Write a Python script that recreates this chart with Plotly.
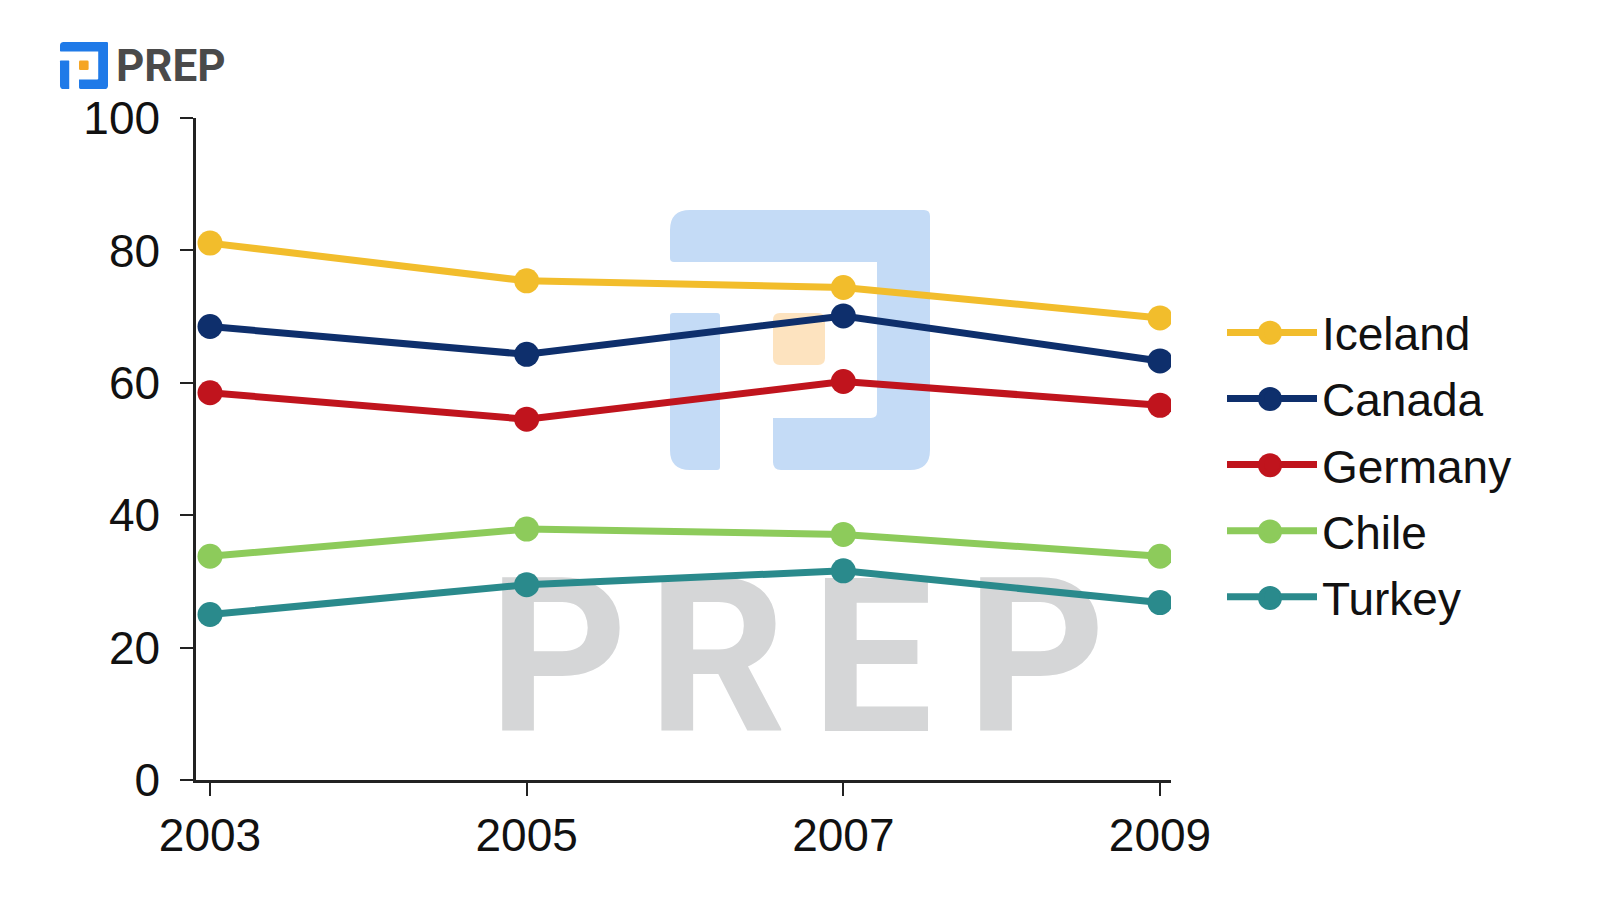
import plotly.graph_objects as go

# ---------------- data ----------------
years = [2003, 2005, 2007, 2009]
countries = ["Iceland", "Canada", "Germany", "Chile", "Turkey"]
iceland = [81.1, 75.4, 74.4, 69.8]
canada = [68.5, 64.3, 70.1, 63.3]
germany = [58.5, 54.5, 60.2, 56.6]
chile = [33.8, 37.9, 37.1, 33.8]
turkey = [25.0, 29.5, 31.6, 26.8]
y_ticks = [0, 20, 40, 60, 80, 100]
x_ticks = [2003, 2005, 2007, 2009]

series = [iceland, canada, germany, chile, turkey]
colors = ["#f2bd2c", "#0e2f6c", "#c0141d", "#8dcb5b", "#2a8a8c"]

# ---------------- geometry ----------------
W, H = 1600, 900
L, R, T, B = 196, 1171, 118, 780

def px(x):
    return (x - L) / (R - L)

def py(y):
    return (B - y) / (B - T)

def rounded_poly(pts, radii, tf=lambda x, y: (x, y)):
    n = len(pts)
    segs = []
    for i in range(n):
        P = pts[i]
        A = pts[i - 1]
        C = pts[(i + 1) % n]
        r = radii[i]
        def toward(Q, d):
            dx, dy = Q[0] - P[0], Q[1] - P[1]
            ln = (dx * dx + dy * dy) ** 0.5
            return (P[0] + dx / ln * d, P[1] + dy / ln * d)
        segs.append((toward(A, r), P, toward(C, r)))
    def fmt(p):
        x, y = tf(*p)
        return f"{px(x):.5f},{py(y):.5f}"
    s = "M" + fmt(segs[0][0])
    for (p1, P, p2) in segs:
        s += " L" + fmt(p1) + " Q" + fmt(P) + " " + fmt(p2)
    s += " Z"
    return s

def rect_pts(x0, y0, x1, y1):
    return [(x0, y0), (x1, y0), (x1, y1), (x0, y1)]

# logo pieces (pixel coordinates of the big watermark)
main_pts = [(670, 210), (930, 210), (930, 470), (773, 470), (773, 418), (877, 418), (877, 262), (670, 262)]
main_r = [20, 6, 20, 8, 0.01, 6, 0.01, 4]
left_pts = rect_pts(670, 313, 720, 470)
left_r = [3, 3, 3, 20]
orange_pts = rect_pts(773, 313, 825, 365)
orange_r = [7, 7, 7, 7]

shapes = []
def add_logo(tf, blue, orange, layer):
    for pts, rr, col in [(main_pts, main_r, blue), (left_pts, left_r, blue), (orange_pts, orange_r, orange)]:
        shapes.append(dict(type="path", xref="paper", yref="paper", layer=layer,
                           path=rounded_poly(pts, rr, tf), fillcolor=col, line=dict(width=0)))

add_logo(lambda x, y: (x, y), "#c4dbf6", "#fde3bf", "below")
add_logo(lambda x, y: (60 + (x - 670) * 48 / 260, 42 + (y - 210) * 47 / 260), "#1f7ae8", "#f5a524", "above")

# gray PREP watermark letters (below the lines)
letters = [("P", 558), ("R", 717), ("E", 872), ("P", 1036)]
for ch, cx in letters:
    shapes.append(dict(type="rect", xref="paper", yref="paper", layer="below",
                       x0=px(cx - 70), x1=px(cx + 70), y0=py(721), y1=py(561),
                       fillcolor="rgba(0,0,0,0)", line=dict(width=0),
                       label=dict(text=ch, textposition="middle center",
                                  font=dict(family="Roboto", size=216, color="#d5d6d7", weight="bold"))))

# larger legend dots (plotly caps legend marker size)
legend_dot_y = [332.7, 399.0, 465.3, 531.6, 597.9]
for col, yy in zip(colors, legend_dot_y):
    shapes.append(dict(type="circle", xref="paper", yref="paper", layer="above",
                       x0=px(1270 - 12), x1=px(1270 + 12), y0=py(yy + 12), y1=py(yy - 12),
                       fillcolor=col, line=dict(width=0)))

fig = go.Figure()
for name, vals, col in zip(countries, series, colors):
    fig.add_trace(go.Scatter(
        x=years, y=vals, name=name, legendgroup=name, mode="lines+markers",
        line=dict(color=col, width=7),
        marker=dict(color=col, size=25),
    ))

font_fam = "Liberation Sans, Arial"

fig.update_layout(
    width=W, height=H,
    margin=dict(l=L, r=W - R, t=T, b=H - B, pad=0),
    paper_bgcolor="white", plot_bgcolor="white",
    shapes=shapes,
    showlegend=True,
    legend=dict(x=px(1222), y=py(296), xanchor="left", yanchor="top",
                font=dict(size=46, family=font_fam, color="#111111"),
                itemwidth=90, bgcolor="rgba(0,0,0,0)", tracegroupgap=3.3),
    annotations=[dict(xref="paper", yref="paper", x=px(114), y=py(66), xanchor="left", yanchor="middle",
                      text="<b>PREP</b>", showarrow=False,
                      font=dict(family="Roboto", size=44, color="#4a4a4a"))],
)

fig.update_xaxes(
    range=[2002.9116, 2009.0695], tickvals=x_ticks, ticktext=[str(v) for v in x_ticks],
    showline=True, linecolor="#222222", linewidth=2.5,
    ticks="outside", ticklen=13, tickwidth=2, tickcolor="#222222",
    showgrid=False, zeroline=False,
    tickfont=dict(size=46, family=font_fam, color="#111111"),
    ticklabelstandoff=0,
)
fig.update_yaxes(
    range=[0, 100], tickvals=y_ticks,
    showline=True, linecolor="#222222", linewidth=2.5,
    ticks="outside", ticklen=13, tickwidth=2, tickcolor="#222222",
    showgrid=False, zeroline=False,
    tickfont=dict(size=46, family=font_fam, color="#111111"),
    ticklabelstandoff=11,
)

fig.write_html("out.html", include_plotlyjs=True, full_html=True,
               config={"displayModeBar": False},
               post_script="document.body.style.margin='0';")
